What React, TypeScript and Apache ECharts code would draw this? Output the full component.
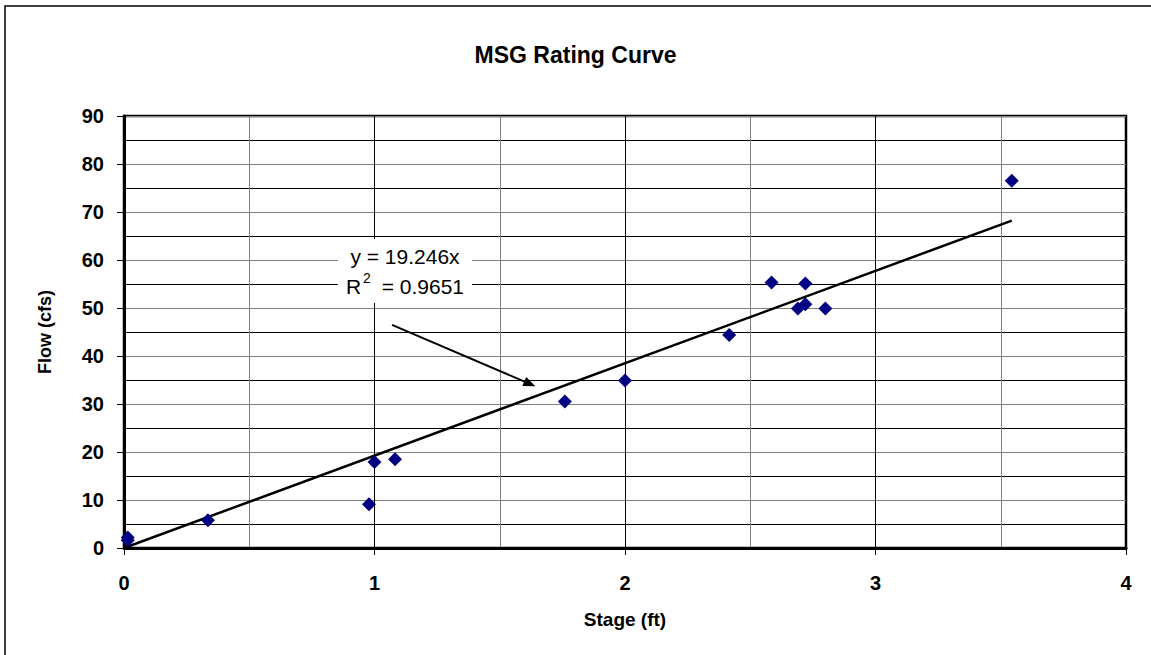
import React, { useEffect, useRef } from "react";
import * as echarts from "echarts";

const stage = [0.015, 0.015, 0.335, 0.978, 1.0, 1.082, 1.76, 2.0, 2.416, 2.585, 2.69, 2.72, 2.72, 2.8, 3.544];
const flow = [2.2, 1.6, 5.8, 9.1, 17.9, 18.5, 30.5, 34.9, 44.4, 55.3, 49.9, 55.1, 50.8, 49.9, 76.5];
const slope = 19.246;
const rSquared = 0.9651;
const trendRange = [0, 3.544];
const arrowFrom = [1.07, 46.5];
const arrowTo = [1.62, 34.2];
const xTicks = [0, 1, 2, 3, 4];
const yTicks = [0, 10, 20, 30, 40, 50, 60, 70, 80, 90];

const FONT = "'Liberation Sans', Arial, sans-serif";

export default function App() {
  const ref = useRef<HTMLDivElement>(null);
  useEffect(() => {
    if (!ref.current) return;
    const chart = echarts.init(ref.current, undefined, { renderer: "svg" });
    const points = stage.map((s, i) => [s, flow[i]]);
    const trend = trendRange.map((x) => [x, slope * x]);
    chart.setOption({
      animation: false,
      backgroundColor: "#fff",
      title: {
        text: "MSG Rating Curve",
        left: "center",
        top: 38,
        textStyle: { fontFamily: FONT, fontSize: 23, fontWeight: "bold", color: "#000" },
      },
      grid: {
        left: 124,
        top: 116,
        right: 25,
        bottom: 107,
        show: true,
        borderColor: "#000",
        borderWidth: 2.5,
        backgroundColor: "#fff",
      },
      xAxis: {
        type: "value",
        min: xTicks[0],
        max: xTicks[xTicks.length - 1],
        interval: 1,
        name: "Stage (ft)",
        nameLocation: "middle",
        nameGap: 62,
        nameTextStyle: { fontFamily: FONT, fontSize: 19, fontWeight: "bold", color: "#000" },
        axisLine: { show: true, onZero: false, lineStyle: { color: "#000", width: 3 } },
        axisTick: { show: true, inside: false, length: 7, lineStyle: { color: "#000", width: 1 } },
        axisLabel: { fontFamily: FONT, fontSize: 20, fontWeight: "bold", color: "#000", margin: 25 },
        splitLine: { show: true, lineStyle: { color: "#000", width: 1 } },
        minorTick: { show: false, splitNumber: 2 },
        minorSplitLine: { show: true, lineStyle: { color: "#808080", width: 1 } },
      },
      yAxis: {
        type: "value",
        min: yTicks[0],
        max: yTicks[yTicks.length - 1],
        interval: 10,
        name: "Flow (cfs)",
        nameLocation: "middle",
        nameGap: 70,
        nameTextStyle: { fontFamily: FONT, fontSize: 18, fontWeight: "bold", color: "#000" },
        axisLine: { show: true, onZero: false, lineStyle: { color: "#000", width: 3 } },
        axisTick: { show: true, inside: false, length: 7, lineStyle: { color: "#000", width: 1 } },
        axisLabel: { fontFamily: FONT, fontSize: 20, fontWeight: "bold", color: "#000", margin: 20 },
        splitLine: { show: true, lineStyle: { color: "#808080", width: 1 } },
        minorTick: { show: false, splitNumber: 2 },
        minorSplitLine: { show: true, lineStyle: { color: "#000", width: 1 } },
      },
      series: [
        {
          type: "line",
          data: trend,
          symbol: "none",
          lineStyle: { color: "#000", width: 2.5 },
          z: 3,
          markLine: {
            silent: true,
            symbol: ["none", "triangle"],
            symbolSize: [10, 12],
            label: { show: false },
            lineStyle: { color: "#000", width: 2, type: "solid" },
            data: [[{ coord: arrowFrom }, { coord: arrowTo }]],
          },
        },
        {
          type: "scatter",
          data: points,
          symbol: "diamond",
          symbolSize: 14,
          itemStyle: { color: "#000080", opacity: 1 },
          z: 4,
        },
      ],
      graphic: [
        {
          type: "rect",
          z: -10,
          shape: { x: 5, y: 6, width: 1200, height: 700 },
          style: { fill: "none", stroke: "#000", lineWidth: 1.5 },
        },
        {
          type: "text",
          x: 405,
          y: 271,
          z: 100,
          style: {
            text: `{a|y = ${slope}x}\n{a|R}{sup|2}{a| = ${rSquared}}`,
            align: "center",
            verticalAlign: "middle",
            backgroundColor: "#fff",
            padding: [2, 8, 2, 8],
            rich: {
              a: { fontFamily: FONT, fontSize: 21, color: "#000", lineHeight: 30 },
              sup: { fontFamily: FONT, fontSize: 14, color: "#000", lineHeight: 30, padding: [0, 5, 16, 2] },
            },
          },
        },
      ],
    });
    return () => chart.dispose();
  }, []);
  return (
    <div
      ref={ref}
      style={{ position: "absolute", left: 0, top: 0, width: 1151, height: 655 }}
    />
  );
}
